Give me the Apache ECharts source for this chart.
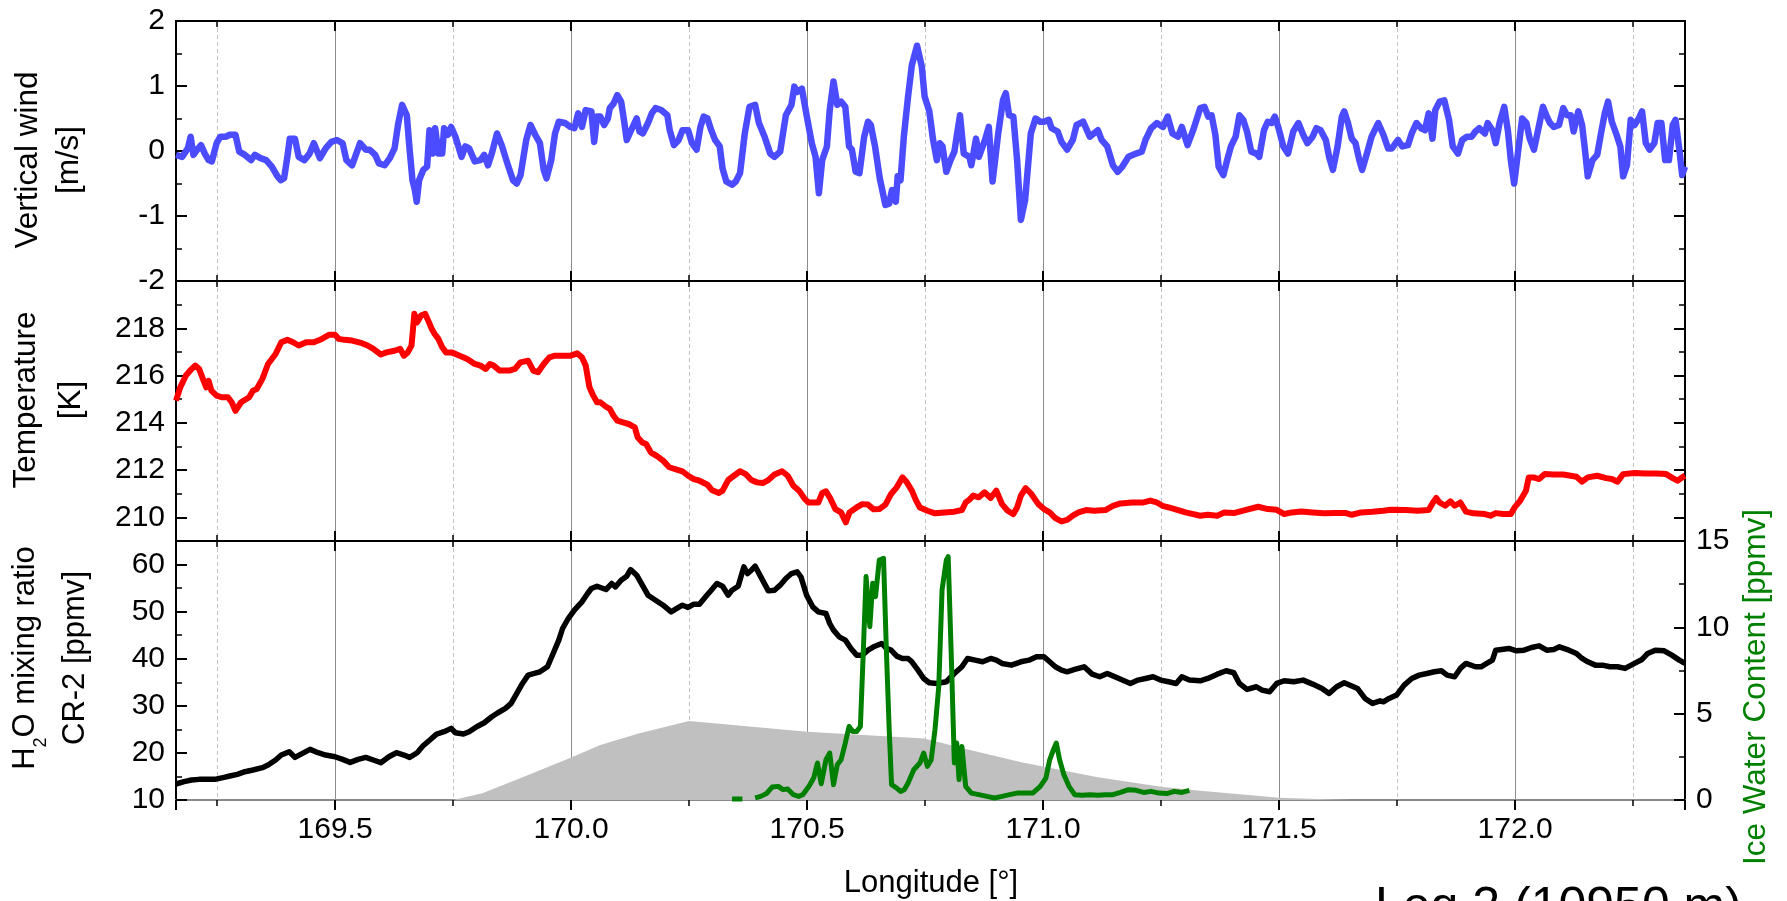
<!DOCTYPE html>
<html>
<head>
<meta charset="utf-8">
<script src="https://cdn.jsdelivr.net/npm/echarts@6/dist/echarts.min.js"></script>
<style>
html,body{margin:0;padding:0;background:#fff;}
#chart{width:1787px;height:901px;}
</style>
</head>
<body>
<div id="chart"></div>
<script>
// ---------- data ----------
const lonRange = [169.163, 172.36];
const xTickDecimals = 1;

const windData = [
[169.163,-0.06],[169.176,-0.09],[169.188,0.04],[169.194,0.22],[169.200,-0.06],[169.208,0.02],[169.216,0.09],[169.224,-0.04],[169.232,-0.14],[169.239,-0.16],[169.249,0.12],[169.257,0.22],[169.269,0.22],[169.277,0.25],[169.289,0.25],[169.297,-0.01],[169.309,-0.06],[169.322,-0.14],[169.330,-0.06],[169.342,-0.11],[169.354,-0.14],[169.366,-0.24],[169.378,-0.39],[169.385,-0.45],[169.392,-0.42],[169.399,-0.09],[169.404,0.19],[169.415,0.19],[169.423,-0.09],[169.435,-0.14],[169.446,-0.04],[169.455,0.12],[169.468,-0.11],[169.480,0.04],[169.492,0.14],[169.504,0.17],[169.516,0.12],[169.524,-0.14],[169.536,-0.22],[169.545,-0.04],[169.553,0.12],[169.565,0.02],[169.573,0.02],[169.585,-0.06],[169.593,-0.19],[169.605,-0.22],[169.616,-0.11],[169.626,0.04],[169.634,0.43],[169.642,0.71],[169.652,0.55],[169.658,0.02],[169.664,-0.45],[169.669,-0.60],[169.673,-0.78],[169.678,-0.45],[169.687,-0.29],[169.695,-0.24],[169.700,0.32],[169.707,-0.04],[169.712,0.35],[169.719,-0.04],[169.727,-0.04],[169.731,0.35],[169.739,0.25],[169.746,0.37],[169.755,0.22],[169.768,-0.09],[169.776,0.07],[169.784,0.04],[169.796,-0.16],[169.808,-0.14],[169.816,-0.06],[169.824,-0.22],[169.832,-0.04],[169.843,0.27],[169.853,0.09],[169.865,-0.19],[169.877,-0.45],[169.885,-0.50],[169.893,-0.37],[169.905,0.17],[169.914,0.40],[169.924,0.25],[169.934,0.12],[169.942,-0.29],[169.948,-0.42],[169.958,-0.14],[169.966,0.27],[169.974,0.45],[169.987,0.43],[169.999,0.37],[170.007,0.35],[170.015,0.58],[170.023,0.37],[170.031,0.63],[170.043,0.61],[170.049,0.14],[170.055,0.53],
[170.062,0.53],[170.070,0.40],[170.078,0.50],[170.082,0.66],[170.090,0.73],[170.098,0.86],[170.106,0.76],[170.112,0.48],[170.118,0.17],[170.126,0.30],[170.139,0.50],[170.145,0.30],[170.152,0.27],[170.163,0.43],[170.171,0.58],[170.179,0.66],[170.191,0.63],[170.204,0.55],[170.209,0.32],[170.218,0.09],[170.228,0.17],[170.236,0.32],[170.248,0.32],[170.256,0.12],[170.266,0.02],[170.274,0.37],[170.281,0.53],[170.289,0.50],[170.297,0.32],[170.305,0.17],[170.315,0.07],[170.321,-0.27],[170.329,-0.47],[170.341,-0.52],[170.349,-0.47],[170.358,-0.34],[170.368,0.27],[170.378,0.68],[170.390,0.71],[170.398,0.43],[170.410,0.22],[170.422,-0.04],[170.431,-0.09],[170.443,-0.01],[170.455,0.55],[170.467,0.71],[170.473,0.99],[170.479,0.91],[170.489,0.96],[170.499,0.55],[170.510,0.12],[170.518,-0.09],[170.525,-0.65],[170.532,-0.14],[170.542,0.07],[170.548,0.63],[170.556,1.07],[170.564,0.71],[170.572,0.76],[170.581,0.68],[170.589,0.07],[170.595,0.02],[170.603,-0.32],[170.611,-0.34],[170.621,0.22],[170.629,0.45],[170.635,0.40],[170.644,0.07],[170.654,-0.42],[170.666,-0.83],[170.674,-0.81],[170.680,-0.60],[170.688,-0.78],[170.692,-0.39],[170.698,-0.45],[170.705,0.22],[170.714,0.84],[170.722,1.32],[170.733,1.62],[170.743,1.30],[170.749,0.84],[170.759,0.61],[170.767,0.17],[170.775,-0.14],[170.781,0.12],[170.787,0.07],[170.795,-0.32],[170.804,-0.14],[170.812,-0.01],[170.824,0.55],[170.832,-0.04],[170.844,-0.09],[170.848,-0.22],[170.858,0.19],[170.864,-0.09],[170.877,0.17],[170.885,0.37],[170.893,-0.47],[170.905,0.27],[170.915,0.78],[170.921,0.89],[170.928,0.55],[170.937,0.53],[170.945,-0.14],[170.953,-1.06],[170.962,-0.75],[170.974,0.27],[170.984,0.50],[170.994,0.45],[171.002,0.45],[171.012,0.48],[171.018,0.35],[171.031,0.30],[171.039,0.14],[171.051,0.02],[171.063,0.17],[171.071,0.40],[171.085,0.45],[171.099,0.22],[171.116,0.32],[171.124,0.17],[171.136,0.07],[171.148,-0.22],[171.158,-0.32],[171.168,-0.24],[171.181,-0.09],[171.197,-0.04],[171.209,-0.01],[171.217,0.17],[171.229,0.35],[171.241,0.43],[171.254,0.37],[171.264,0.53],[171.274,0.27],[171.286,0.22],[171.294,0.37],[171.306,0.09],[171.318,0.32],
[171.333,0.66],[171.342,0.68],[171.350,0.53],[171.357,0.55],[171.365,0.25],[171.372,-0.24],[171.382,-0.37],[171.390,-0.14],[171.398,0.07],[171.408,0.22],[171.416,0.55],[171.424,0.48],[171.432,0.30],[171.441,-0.01],[171.452,-0.04],[171.458,-0.09],[171.468,0.32],[171.476,0.45],[171.484,0.43],[171.491,0.53],[171.499,0.35],[171.509,0.07],[171.519,-0.04],[171.530,0.30],[171.541,0.43],[171.551,0.25],[171.560,0.12],[171.571,0.22],[171.579,0.35],[171.588,0.32],[171.599,0.17],[171.606,-0.09],[171.614,-0.29],[171.624,0.07],[171.633,0.53],[171.638,0.61],[171.646,0.43],[171.654,0.19],[171.662,0.12],[171.670,-0.14],[171.676,-0.29],[171.686,-0.04],[171.696,0.22],[171.710,0.43],[171.721,0.25],[171.731,0.04],[171.739,0.04],[171.752,0.17],[171.761,0.07],[171.773,0.09],[171.781,0.27],[171.791,0.43],[171.801,0.35],[171.809,0.32],[171.817,0.58],[171.825,0.19],[171.831,0.63],[171.840,0.76],[171.850,0.78],[171.860,0.48],[171.868,0.07],[171.879,-0.04],[171.888,0.17],[171.898,0.22],[171.908,0.22],[171.916,0.30],[171.924,0.35],[171.936,0.27],[171.942,0.43],[171.952,0.32],[171.959,0.12],[171.967,0.43],[171.977,0.68],[171.985,0.30],[171.991,-0.14],[171.998,-0.50],[172.005,-0.09],[172.015,0.50],[172.024,0.43],[172.031,0.19],[172.040,0.02],[172.051,0.40],[172.059,0.68],[172.066,0.55],[172.074,0.43],[172.082,0.37],[172.093,0.40],[172.102,0.66],[172.110,0.55],[172.118,0.55],[172.124,0.30],[172.134,0.61],[172.142,0.40],[172.148,0.02],[172.154,-0.39],[172.164,-0.14],[172.174,-0.06],[172.182,0.27],[172.190,0.58],[172.197,0.76],[172.205,0.45],[172.215,0.25],[172.223,0.07],[172.229,-0.39],[172.237,-0.22],[172.245,0.48],[172.253,0.40],[172.262,0.50],[172.269,0.61],[172.277,0.12],[172.285,0.02],[172.295,0.12],[172.302,0.43],[172.310,0.43],[172.318,-0.14],[172.326,-0.14],[172.334,0.40],[172.340,0.48],[172.348,0.02],[172.354,-0.37],[172.360,-0.24]
];

const temperatureData = [
[169.163,214.94],[169.172,215.50],[169.184,216.00],[169.196,216.28],[169.204,216.42],[169.212,216.28],[169.220,215.86],[169.227,215.50],[169.232,215.78],[169.238,215.36],[169.249,215.15],[169.261,215.08],[169.273,215.08],[169.281,214.87],[169.289,214.51],[169.301,214.87],[169.318,215.08],[169.326,215.36],[169.334,215.43],[169.346,215.86],[169.358,216.49],[169.374,216.91],[169.386,217.41],[169.399,217.51],[169.411,217.41],[169.423,217.27],[169.439,217.41],[169.455,217.41],[169.472,217.55],[169.488,217.73],[169.500,217.73],[169.508,217.55],[169.520,217.51],[169.536,217.48],[169.557,217.37],[169.569,217.27],[169.581,217.13],[169.597,216.89],[169.609,216.98],[169.626,217.05],[169.638,217.13],[169.646,216.84],[169.654,216.98],[169.662,217.27],[169.668,218.61],[169.674,218.25],[169.682,218.54],[169.691,218.61],[169.699,218.25],[169.705,217.97],[169.711,217.76],[169.719,217.55],[169.727,217.20],[169.735,216.98],[169.747,216.98],[169.764,216.84],[169.780,216.70],[169.796,216.49],[169.808,216.42],[169.819,216.28],[169.828,216.49],[169.836,216.42],[169.849,216.21],[169.869,216.21],[169.881,216.28],[169.893,216.56],[169.909,216.63],[169.920,216.21],[169.930,216.14],[169.942,216.49],[169.954,216.77],[169.966,216.84],[169.982,216.84],[169.999,216.84],[170.013,216.94],[170.023,216.77],[170.031,216.42],[170.039,215.50],[170.047,215.15],[170.055,214.87],
[170.062,214.87],[170.074,214.68],[170.082,214.59],[170.090,214.30],[170.098,214.09],[170.110,214.02],[170.122,213.95],[170.135,213.81],[170.141,213.39],[170.151,213.17],[170.159,213.10],[170.169,212.75],[170.183,212.58],[170.195,212.40],[170.208,212.12],[170.224,212.02],[170.236,211.95],[170.248,211.76],[170.260,211.62],[170.272,211.55],[170.289,211.38],[170.298,211.16],[170.313,211.03],[170.321,211.13],[170.333,211.58],[170.345,211.76],[170.358,211.95],[170.370,211.83],[170.382,211.58],[170.394,211.48],[170.406,211.45],[170.418,211.58],[170.431,211.81],[170.447,211.95],[170.459,211.76],[170.471,211.34],[170.483,211.13],[170.495,210.78],[170.503,210.63],[170.516,210.63],[170.524,210.63],[170.532,211.03],[170.540,211.10],[170.548,210.85],[170.560,210.35],[170.572,210.21],[170.582,209.79],[170.590,210.21],[170.605,210.42],[170.617,210.56],[170.629,210.54],[170.641,210.34],[170.653,210.35],[170.666,210.54],[170.678,210.99],[170.690,211.27],[170.702,211.69],[170.710,211.52],[170.722,211.13],[170.731,210.71],[170.739,210.42],[170.755,210.28],[170.771,210.17],[170.791,210.21],[170.812,210.24],[170.828,210.31],[170.836,210.63],[170.844,210.75],[170.852,210.92],[170.864,210.85],[170.876,211.06],[170.889,210.82],[170.901,211.13],[170.913,210.56],[170.925,210.28],[170.937,210.14],[170.945,210.42],[170.953,210.92],[170.963,211.24],[170.974,211.02],[170.990,210.56],[171.002,210.35],[171.014,210.21],[171.026,209.97],[171.039,209.83],[171.051,209.89],[171.063,210.07],[171.075,210.21],[171.091,210.31],[171.108,210.28],[171.132,210.31],[171.148,210.49],[171.164,210.59],[171.189,210.63],[171.213,210.63],[171.227,210.71],[171.241,210.63],[171.253,210.49],[171.270,210.40],[171.286,210.31],[171.302,210.21],
[171.333,210.07],[171.349,210.11],[171.369,210.07],[171.384,210.21],[171.404,210.18],[171.428,210.31],[171.456,210.45],[171.476,210.35],[171.495,210.32],[171.511,210.14],[171.527,210.21],[171.547,210.25],[171.571,210.21],[171.595,210.17],[171.618,210.18],[171.642,210.18],[171.654,210.11],[171.674,210.21],[171.698,210.24],[171.721,210.28],[171.737,210.32],[171.769,210.31],[171.793,210.28],[171.817,210.31],[171.826,210.63],[171.833,210.82],[171.840,210.63],[171.852,210.49],[171.863,210.68],[171.872,210.49],[171.884,210.63],[171.896,210.24],[171.912,210.17],[171.936,210.14],[171.948,210.07],[171.959,210.18],[171.975,210.14],[171.991,210.14],[171.999,210.42],[172.011,210.71],[172.023,211.13],[172.029,211.69],[172.039,211.69],[172.051,211.62],[172.063,211.83],[172.082,211.81],[172.102,211.81],[172.118,211.76],[172.130,211.72],[172.142,211.51],[172.154,211.69],[172.174,211.76],[172.193,211.66],[172.205,211.62],[172.217,211.51],[172.229,211.83],[172.253,211.88],[172.277,211.86],[172.301,211.86],[172.320,211.83],[172.334,211.66],[172.344,211.55],[172.356,211.72],[172.360,211.76]
];

const h2oData = [
[169.163,13.40],[169.180,13.89],[169.196,14.24],[169.212,14.38],[169.228,14.38],[169.245,14.38],[169.265,14.81],[169.277,15.09],[169.293,15.45],[169.309,16.01],[169.326,16.37],[169.346,16.86],[169.358,17.43],[169.374,18.49],[169.386,19.55],[169.403,20.25],[169.415,19.05],[169.431,19.90],[169.447,20.75],[169.464,20.04],[169.480,19.55],[169.500,19.19],[169.516,18.63],[169.532,17.99],[169.549,18.63],[169.565,19.05],[169.581,18.49],[169.597,17.92],[169.614,19.19],[169.630,20.04],[169.646,19.55],[169.658,19.05],[169.674,20.04],[169.686,21.46],[169.699,22.59],[169.715,24.00],[169.731,24.50],[169.746,25.21],[169.755,24.29],[169.772,24.00],[169.784,24.50],[169.800,25.56],[169.816,26.41],[169.832,27.68],[169.845,28.53],[169.861,29.45],[169.873,30.51],[169.885,32.63],[169.897,34.75],[169.909,36.52],[169.922,36.87],[169.934,37.23],[169.950,38.29],[169.962,41.12],[169.974,43.95],[169.982,46.42],[169.994,48.54],[170.007,50.31],[170.023,52.08],[170.035,53.85],[170.043,54.91],[170.055,55.40],
[170.074,54.70],[170.086,55.97],[170.094,55.26],[170.106,56.68],[170.118,57.52],[170.126,58.94],[170.139,57.74],[170.151,55.62],[170.163,53.49],[170.179,52.43],[170.195,51.37],[170.212,49.96],[170.224,50.67],[170.236,51.37],[170.248,50.88],[170.260,51.58],[170.272,51.58],[170.285,53.14],[170.297,54.55],[170.309,55.97],[170.321,55.40],[170.333,53.49],[170.341,54.55],[170.354,55.40],[170.366,59.50],[170.374,58.09],[170.382,58.80],[170.390,59.65],[170.402,57.38],[170.418,54.41],[170.431,54.55],[170.443,55.62],[170.455,57.03],[170.467,58.09],[170.479,58.44],[170.487,57.38],[170.499,53.49],[170.512,51.02],[170.524,49.96],[170.540,49.60],[170.548,47.48],[170.556,46.07],[170.568,44.65],[170.581,43.95],[170.593,42.18],[170.605,40.76],[170.617,40.76],[170.629,41.82],[170.641,42.53],[170.658,43.24],[170.668,42.18],[170.678,41.82],[170.690,40.55],[170.702,40.06],[170.714,40.06],[170.722,39.35],[170.735,37.58],[170.747,35.81],[170.759,34.89],[170.775,34.75],[170.795,35.11],[170.812,36.87],[170.828,38.29],[170.840,40.06],[170.856,39.70],[170.872,39.35],[170.889,40.06],[170.901,39.70],[170.913,39.00],[170.933,38.64],[170.953,39.35],[170.970,39.70],[170.986,40.41],[171.002,40.41],[171.014,39.35],[171.026,38.29],[171.039,37.58],[171.051,37.23],[171.067,37.72],[171.087,38.29],[171.104,36.73],[171.120,36.17],[171.136,36.87],[171.152,36.17],[171.168,35.46],[171.185,34.75],[171.201,35.46],[171.217,35.81],[171.233,36.17],[171.249,35.46],[171.266,35.11],[171.282,34.75],[171.294,36.17],[171.310,35.46],
[171.333,35.32],[171.349,35.81],[171.369,36.73],[171.388,37.44],[171.404,37.02],[171.416,34.75],[171.432,33.48],[171.452,34.05],[171.464,33.34],[171.480,32.98],[171.495,34.75],[171.511,35.32],[171.531,35.11],[171.551,35.46],[171.571,34.61],[171.591,33.69],[171.606,32.63],[171.622,34.05],[171.638,34.89],[171.654,34.19],[171.666,33.69],[171.682,31.57],[171.698,30.51],[171.714,31.07],[171.721,30.86],[171.733,31.57],[171.749,32.28],[171.765,34.40],[171.781,35.81],[171.797,36.52],[171.813,36.87],[171.829,37.23],[171.844,37.44],[171.856,36.52],[171.872,36.17],[171.884,37.94],[171.896,39.00],[171.916,38.29],[171.928,38.29],[171.940,39.00],[171.952,39.70],[171.959,41.82],[171.971,41.97],[171.987,42.18],[172.003,41.68],[172.019,41.82],[172.035,42.39],[172.051,42.74],[172.067,41.82],[172.082,41.97],[172.094,42.53],[172.114,41.82],[172.130,41.12],[172.142,40.06],[172.154,39.35],[172.170,38.64],[172.185,38.64],[172.201,38.29],[172.217,38.29],[172.233,37.94],[172.253,39.00],[172.269,39.84],[172.281,41.12],[172.297,41.82],[172.316,41.68],[172.332,40.76],[172.348,39.70],[172.360,39.00]
];

const iwcData = [
[170.341,0.06],[170.363,0.06],[170.375,null],
[170.390,0.12],[170.402,0.21],[170.414,0.37],[170.426,0.75],[170.439,0.79],[170.449,0.60],[170.459,0.64],[170.471,0.31],[170.482,0.21],[170.491,0.31],[170.504,0.79],[170.514,1.27],[170.522,2.14],[170.530,0.94],[170.540,2.33],[170.548,2.72],[170.556,0.89],[170.564,2.04],[170.572,2.33],[170.581,3.30],[170.589,4.26],[170.597,3.97],[170.605,3.97],[170.613,4.26],[170.619,8.50],[170.625,12.94],[170.633,10.04],[170.639,12.55],[170.645,11.78],[170.653,13.90],[170.662,14.00],[170.668,8.69],[170.674,4.07],[170.679,0.89],[170.690,0.69],[170.698,0.50],[170.706,0.60],[170.714,0.98],[170.726,1.75],[170.739,2.14],[170.747,2.72],[170.755,1.95],[170.763,2.33],[170.771,4.07],[170.779,6.57],[170.786,12.17],[170.795,13.90],[170.799,14.09],[170.806,7.92],[170.812,2.14],[170.817,3.30],[170.822,1.18],[170.828,3.10],[170.836,0.79],[170.848,0.40],[170.864,0.31],[170.881,0.21],[170.897,0.12],[170.913,0.21],[170.929,0.31],[170.945,0.40],[170.962,0.40],[170.978,0.40],[170.994,0.79],[171.006,1.27],[171.014,2.33],[171.022,2.91],[171.028,3.30],[171.035,2.33],[171.044,1.47],[171.055,0.79],[171.067,0.31],[171.083,0.27],[171.099,0.31],[171.116,0.27],[171.132,0.31],[171.148,0.31],[171.164,0.44],[171.181,0.60],[171.197,0.56],[171.213,0.44],[171.229,0.50],[171.245,0.40],[171.262,0.37],[171.278,0.50],[171.294,0.44],[171.310,0.56]
];

// grey shaded profile (plotted on the H2O axis, baseline 10 ppmv)
const shadeData = [
[169.750,10.0],[169.812,11.41],[169.900,14.95],[169.999,18.98],[170.062,21.67],[170.143,24.14],[170.250,26.76],[170.500,24.50],[170.749,23.08],[170.832,20.96],[170.954,17.99],[171.116,14.81],[171.250,12.83],[171.333,11.98],[171.500,10.50],[171.650,10.0]
];

const panelTitles = ['Vertical wind\n[m/s]', 'Temperature\n[K]'];
const xAxisTitle = 'Longitude [°]';
const rightTitle = 'Ice Water Content [ppmv]';
const legTitle = 'Leg 2 (10950 m)';

// ---------- chart ----------
const FONT = '"Liberation Sans", Arial, Helvetica, sans-serif';
const chart = echarts.init(document.getElementById('chart'), null, {renderer: 'canvas'});

const grids = [
  {left: 176, right: 102, top: 21, height: 260},
  {left: 176, right: 102, top: 281, height: 260},
  {left: 176, right: 102, top: 541, height: 259}
];

const blackLine = {color: '#000', width: 2};
const xAxes = [];
grids.forEach((g, i) => {
  const last = i === 2;
  xAxes.push({
    type: 'value', gridIndex: i, position: 'bottom',
    min: lonRange[0], max: lonRange[1], splitNumber: 5,
    axisLine: {show: true, onZero: false, lineStyle: last ? {color: '#8a8a8a', width: 2} : blackLine},
    axisTick: {show: true, inside: !last, length: 10, lineStyle: {color: '#000', width: 2}},
    minorTick: {show: true, splitNumber: 2, length: 6, lineStyle: {color: '#000', width: 1.5}},
    axisLabel: {
      show: last, color: '#000', fontSize: 30, fontFamily: FONT, margin: 15,
      showMinLabel: false, showMaxLabel: false,
      formatter: v => v.toFixed(xTickDecimals)
    },
    splitLine: {show: true, lineStyle: {color: '#8c8c8c', width: 1}},
    minorSplitLine: {show: true, lineStyle: {color: '#c4c4c4', width: 1, type: [4, 3]}}
  });
  xAxes.push({
    type: 'value', gridIndex: i, position: 'top',
    min: lonRange[0], max: lonRange[1], splitNumber: 5,
    axisLine: {show: true, onZero: false, lineStyle: blackLine},
    axisTick: {show: true, inside: true, length: 10, lineStyle: {color: '#000', width: 2}},
    minorTick: {show: true, splitNumber: 2, length: 6, lineStyle: {color: '#000', width: 1.5}},
    axisLabel: {show: false},
    splitLine: {show: false}
  });
});

function yAx(i, pos, cfg, labels, labelColor) {
  return Object.assign({
    type: 'value', gridIndex: i, position: pos,
    axisLine: {show: true, onZero: false, lineStyle: blackLine},
    axisTick: {show: true, inside: true, length: 11, lineStyle: {color: '#000', width: 2}},
    minorTick: {show: true, splitNumber: 2, length: 6, lineStyle: {color: '#000', width: 1.5}},
    axisLabel: {
      show: labels, color: labelColor || '#000', fontSize: 30, fontFamily: FONT, margin: 11,
      showMinLabel: cfg.showMin !== false, showMaxLabel: cfg.showMax !== false
    },
    splitLine: {show: false}
  }, cfg.axis);
}

const yAxes = [
  yAx(0, 'left', {axis: {min: -2, max: 2, interval: 1}}, true),
  yAx(0, 'right', {axis: {min: -2, max: 2, interval: 1}}, false),
  yAx(1, 'left', {axis: {min: 209, max: 220, splitNumber: 5}, showMin: false, showMax: false}, true),
  yAx(1, 'right', {axis: {min: 209, max: 220, splitNumber: 5}}, false),
  yAx(2, 'left', {axis: {min: 10, max: 65, interval: 10}, showMax: false}, true),
  yAx(2, 'right', {axis: {min: 0, max: 15, interval: 5}}, true)
];

const TITLE_FONT = '31.5px ' + FONT;
const option = {
  animation: false,
  backgroundColor: '#fff',
  grid: grids,
  xAxis: xAxes,
  yAxis: yAxes,
  series: [
    {type: 'line', name: 'Vertical wind', xAxisIndex: 0, yAxisIndex: 0, data: windData,
     showSymbol: false, symbol: 'none', lineStyle: {color: '#4b4bff', width: 6.5, join: 'round'}, z: 3},
    {type: 'line', name: 'Temperature', xAxisIndex: 2, yAxisIndex: 2, data: temperatureData,
     showSymbol: false, symbol: 'none', lineStyle: {color: '#ff0000', width: 6, join: 'round'}, z: 3},
    {type: 'line', name: 'shade', xAxisIndex: 4, yAxisIndex: 4, data: shadeData,
     showSymbol: false, symbol: 'none', lineStyle: {width: 0, opacity: 0},
     areaStyle: {color: '#c0c0c0', opacity: 1, origin: 'start'}, z: 1},
    {type: 'line', name: 'H2O', xAxisIndex: 4, yAxisIndex: 4, data: h2oData,
     showSymbol: false, symbol: 'none', lineStyle: {color: '#000', width: 5.5, join: 'round'}, z: 3},
    {type: 'line', name: 'IWC', xAxisIndex: 4, yAxisIndex: 5, data: iwcData, connectNulls: false,
     showSymbol: false, symbol: 'none', lineStyle: {color: '#008000', width: 5, join: 'round'}, z: 4}
  ],
  graphic: [
    {type: 'text', x: 49, y: 160, rotation: Math.PI / 2, silent: true,
     style: {text: panelTitles[0], font: TITLE_FONT, fill: '#000', textAlign: 'center', textVerticalAlign: 'middle', lineHeight: 41}},
    {type: 'text', x: 49, y: 400, rotation: Math.PI / 2, silent: true,
     style: {text: panelTitles[1], font: TITLE_FONT, fill: '#000', textAlign: 'center', textVerticalAlign: 'middle', lineHeight: 45}},
    {type: 'text', x: 50, y: 658, rotation: Math.PI / 2, silent: true,
     style: {
       text: '{m|H}{s|2}{m|O mixing ratio}\n{m|CR-2 [ppmv]}',
       textAlign: 'center', textVerticalAlign: 'middle', fill: '#000',
       rich: {
         m: {fontSize: 31, fontFamily: FONT, lineHeight: 50, fill: '#000'},
         s: {fontSize: 18, fontFamily: FONT, lineHeight: 18, verticalAlign: 'bottom', fill: '#000'}
       }
     }},
    {type: 'text', x: 1756, y: 687, rotation: Math.PI / 2, silent: true,
     style: {text: rightTitle, font: TITLE_FONT, fill: '#008000', textAlign: 'center', textVerticalAlign: 'middle'}},
    {type: 'text', x: 931, y: 883, silent: true,
     style: {text: xAxisTitle, font: '31px ' + FONT, fill: '#000', textAlign: 'center', textVerticalAlign: 'middle'}},
    {type: 'text', x: 1375, y: 908, silent: true,
     style: {text: legTitle, font: '50px ' + FONT, fill: '#000', textAlign: 'left', textVerticalAlign: 'middle'}}
  ]
};
chart.setOption(option);
</script>
</body>
</html>
